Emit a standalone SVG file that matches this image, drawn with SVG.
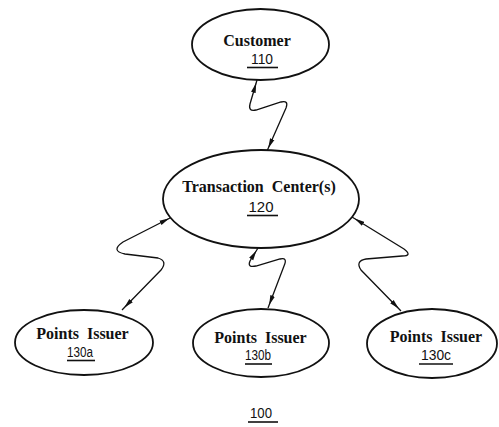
<svg xmlns="http://www.w3.org/2000/svg" width="499" height="427" viewBox="0 0 499 427">
  <style>
    .node ellipse { fill: #fff; stroke: #111; stroke-width: 1.8; }
    .title { font-family: "Liberation Serif", "DejaVu Serif", serif; font-weight: bold; font-size: 16px; fill: #111; text-anchor: middle; }
    .ref { font-family: "Liberation Sans", "DejaVu Sans", sans-serif; font-size: 14px; fill: #111; text-anchor: middle; }
    .uline { stroke: #111; stroke-width: 1.6; }
    .link { fill: none; stroke: #111; stroke-width: 1.3; marker-start: url(#arrow); marker-end: url(#arrow); }
  </style>
  <defs>
    <marker id="arrow" viewBox="0 0 10 6" markerUnits="userSpaceOnUse" markerWidth="10" markerHeight="6" refX="13" refY="3" orient="auto-start-reverse">
      <path d="M0,0.6 L10,3 L0,5.4 z" fill="#111"/>
    </marker>
  </defs>
  <rect width="499" height="427" fill="#fff"/>

  <g id="connectors">
    <path class="link" d="M257,80 L250,104 Q248,112 256,110 L281,102 Q289,100 286,108 L267,151"/>
    <path class="link" d="M172,217 L123,242 Q110,251 125,254 L158,258 Q168,261 161,270 L122,310"/>
    <path class="link" d="M258,248 L250,261 Q247,268 256,266 L280,259 Q288,257 284,266 L268,308"/>
    <path class="link" d="M352,217 L404,249 Q413,256 402,256 L366,259 Q355,261 361,270 L401,311"/>
  </g>

  <g id="customer" class="node">
    <ellipse cx="260.5" cy="44.5" rx="68.5" ry="35.5"/>
    <text class="title" x="257" y="46">Customer</text>
    <text class="ref" x="262" y="64" textLength="22" lengthAdjust="spacingAndGlyphs">110</text>
    <line class="uline" x1="247" y1="67.5" x2="278" y2="67.5"/>
  </g>

  <g id="transaction-center" class="node">
    <ellipse cx="261" cy="199" rx="98" ry="49"/>
    <text class="title" x="259" y="192" xml:space="preserve">Transaction  Center(s)</text>
    <text class="ref" x="261" y="212" textLength="25" lengthAdjust="spacingAndGlyphs">120</text>
    <line class="uline" x1="247" y1="215.5" x2="278" y2="215.5"/>
  </g>

  <g id="points-issuer-a" class="node">
    <ellipse cx="84" cy="342.5" rx="69" ry="32.5"/>
    <text class="title" x="82.5" y="339" xml:space="preserve">Points  Issuer</text>
    <text class="ref" x="80" y="357" textLength="26" lengthAdjust="spacingAndGlyphs">130a</text>
    <line class="uline" x1="67" y1="360.5" x2="95" y2="360.5"/>
  </g>

  <g id="points-issuer-b" class="node">
    <ellipse cx="261" cy="343" rx="68" ry="34"/>
    <text class="title" x="260.5" y="343" xml:space="preserve">Points  Issuer</text>
    <text class="ref" x="258" y="360" textLength="26" lengthAdjust="spacingAndGlyphs">130b</text>
    <line class="uline" x1="245" y1="364" x2="272" y2="364"/>
  </g>

  <g id="points-issuer-c" class="node">
    <ellipse cx="432" cy="343.5" rx="65" ry="34.5"/>
    <text class="title" x="436" y="342" xml:space="preserve">Points  Issuer</text>
    <text class="ref" x="436" y="360" textLength="30" lengthAdjust="spacingAndGlyphs">130c</text>
    <line class="uline" x1="419" y1="364" x2="453" y2="364"/>
  </g>

  <g id="system-ref">
    <text class="ref" x="261" y="418" textLength="22" lengthAdjust="spacingAndGlyphs">100</text>
    <line class="uline" x1="248" y1="422" x2="278" y2="422"/>
  </g>
</svg>
